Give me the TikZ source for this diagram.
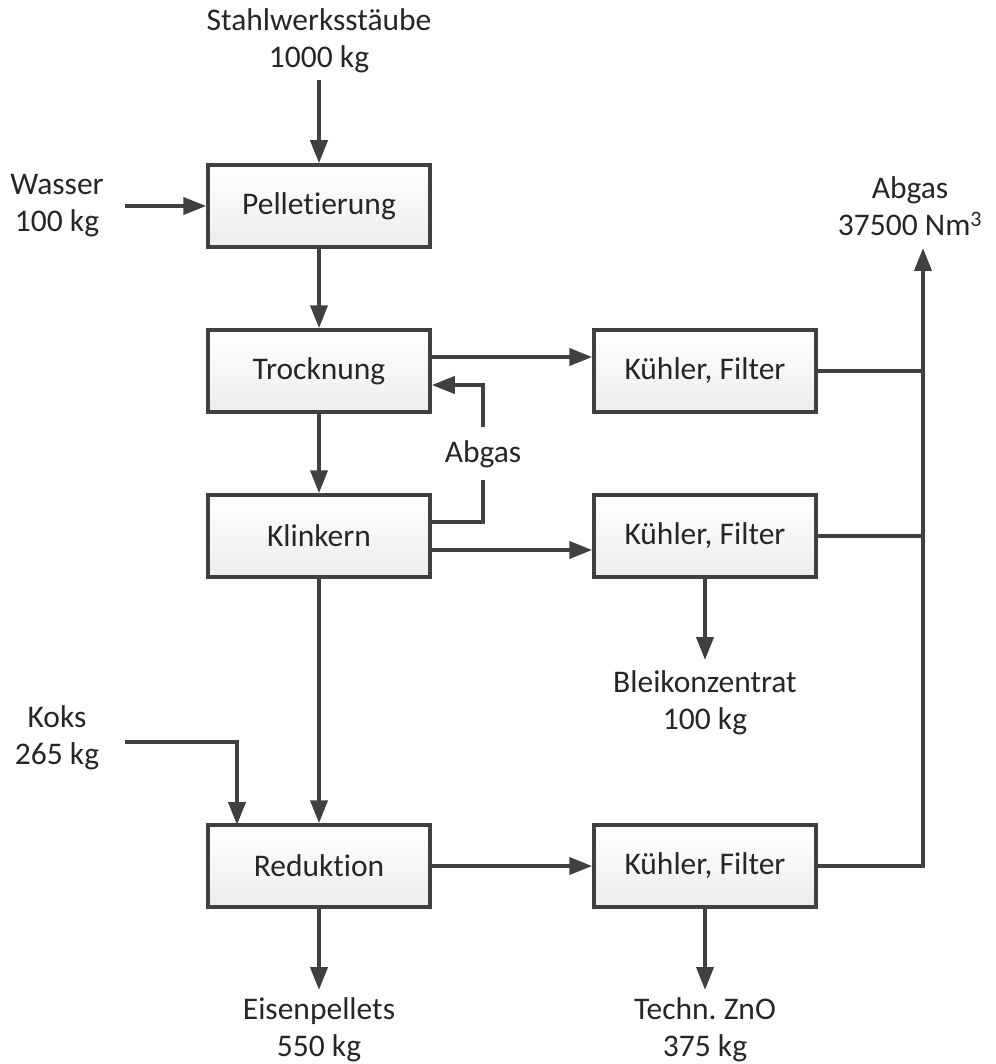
\documentclass[tikz,border=0pt]{standalone}
\usepackage{fontspec}
\setmainfont[Ligatures={NoCommon}]{Carlito}
\usetikzlibrary{arrows.meta, positioning}
\definecolor{linegray}{HTML}{404040}
\definecolor{boxbot}{HTML}{EDEDED}
\frenchspacing

\begin{document}
\begin{tikzpicture}[x=1pt, y=-1pt,
  proc/.style={draw=linegray, line width=3.5pt, top color=white, bottom color=boxbot,
               minimum width=222pt, minimum height=82pt, inner sep=0pt,
               font=\fontsize{31.5}{37}\selectfont, text=black!85},
  lbl/.style={align=center, inner sep=0pt, font=\fontsize{31.5}{37}\selectfont, text=black!85},
  flow/.style={draw=linegray, line width=4pt, -{Triangle[length=23pt, width=17pt]}},
  plain/.style={draw=linegray, line width=4pt},
]
\useasboundingbox (0,0) rectangle (995,1064);

% process boxes
\node[proc] (pel) at (319,206) {Pelletierung};
\node[proc] (tro) at (319,371) {Trocknung};
\node[proc] (kli) at (319,536) {Klinkern};
\node[proc] (red) at (319,866) {Reduktion};
\node[proc] (kf1) at (705,371) {Kühler, Filter};
\node[proc] (kf2) at (705,536) {Kühler, Filter};
\node[proc] (kf3) at (705,866) {Kühler, Filter};

% in- and outputs
\node[lbl] (staub) at (319,41) {Stahlwerksstäube\\1000 kg};
\node[lbl] (wass) at (57,206) {Wasser\\100 kg};
\node[lbl] (koks) at (57,738) {Koks\\265 kg};
\node[lbl] (abg) at (910,206) {Abgas\\37500 Nm\textsuperscript{3}};
\node[lbl] (abgk) at (483,454) {Abgas};
\node[lbl] (blei) at (705,703) {Bleikonzentrat\\100 kg};
\node[lbl] (eisen) at (319,1030) {Eisenpellets\\550 kg};
\node[lbl] (zno) at (705,1030) {Techn. ZnO\\375 kg};

\coordinate (staubend) at (319,80);
\coordinate (wassend) at (125,206);
\coordinate (koksend) at (125,742);
\coordinate (redin) at (237,825);
\coordinate (eisenend) at (319,990);
\coordinate (bleiend) at (705,660);
\coordinate (znoend) at (705,990);
\coordinate (stack) at (923,248);
\coordinate (ret) at (483,480);
\coordinate (retup) at (483,427);

% main flow
\draw[flow] (staubend) -- (pel.north);
\draw[flow] (wassend) -- (pel.west);
\draw[flow] (pel) -- (tro);
\draw[flow] (tro) -- (kli);
\draw[flow] (kli) -- (red);
\draw[flow] (koksend) -| (redin);
\draw[flow] (red.south) -- (eisenend);

% off-gas branch
\draw[flow] ([yshift=14pt]tro.east) -- ([yshift=14pt]kf1.west);
\draw[flow] ([yshift=-14pt]kli.east) -- ([yshift=-14pt]kf2.west);
\draw[flow] (red) -- (kf3);
\draw[plain] ([yshift=14pt]kli.east) -| (ret);
\draw[flow] (retup) |- ([yshift=-14pt]tro.east);
\draw[flow] (kf2.south) -- (bleiend);
\draw[flow] (kf3.south) -- (znoend);

% collector to stack
\draw[plain] (kf1.east) -- (kf1.east -| stack);
\draw[plain] (kf2.east) -- (kf2.east -| stack);
\draw[flow] (kf3.east) -| (stack);
\end{tikzpicture}
\end{document}
